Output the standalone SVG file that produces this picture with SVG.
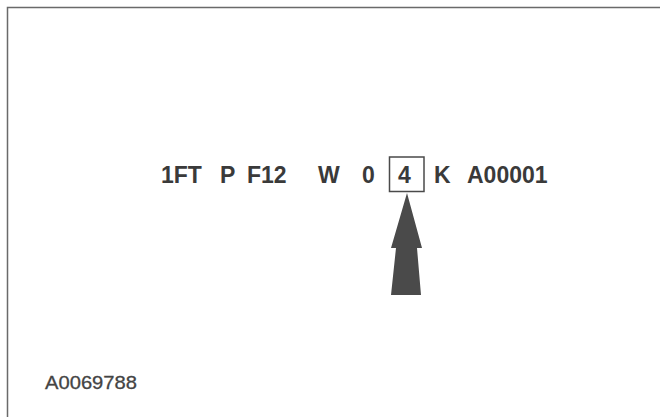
<svg xmlns="http://www.w3.org/2000/svg" width="660" height="417" viewBox="0 0 660 417">
<style>
.code{font-family:"Liberation Sans",Arial,sans-serif;font-weight:bold;font-size:23px;fill:#3a3a3a}
.id{font-family:"Liberation Sans",Arial,sans-serif;font-size:19px;fill:#444;stroke:#444;stroke-width:0.3}
.frame{fill:none;stroke:#6a6a6a;stroke-width:1.5}
</style>
<rect width="660" height="417" fill="#fff"/>
<g id="frame"><path class="frame" d="M7.5 417 V7.5 H660"/></g>
<g id="code">
<text class="code" x="161" y="183">1FT</text>
<text class="code" x="220" y="183">P</text>
<text class="code" x="247" y="183">F12</text>
<text class="code" x="318" y="183">W</text>
<text class="code" x="362" y="183">0</text>
<text class="code" x="398" y="183">4</text>
<text class="code" x="434" y="183">K</text>
<text class="code" x="467" y="183">A00001</text>
</g>
<g id="highlight-box"><rect x="389.5" y="157" width="34.5" height="34.5" fill="none" stroke="#4a4a4a" stroke-width="1.5"/></g>
<g id="connectors">
<polygon id="arrow" points="407,193 391,248 396,248 391,295 421,295 417,248 422,248" fill="#4a4a4a"/>
</g>
<g id="label"><text class="id" x="45" y="389" textLength="92" lengthAdjust="spacingAndGlyphs">A0069788</text></g>
</svg>
